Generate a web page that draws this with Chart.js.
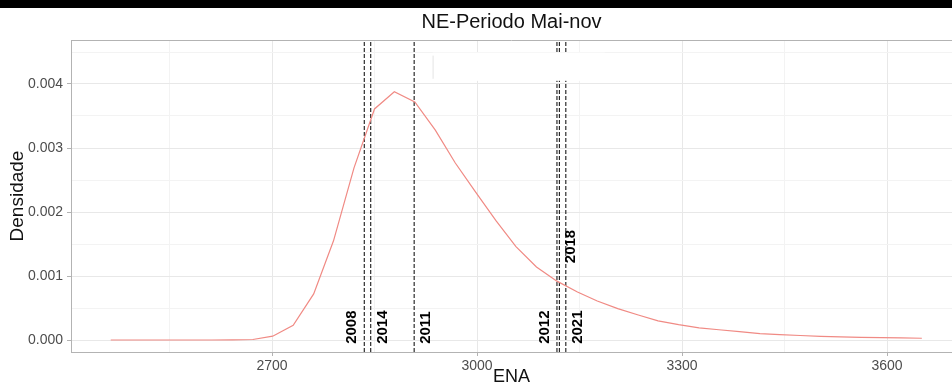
<!DOCTYPE html>
<html>
<head>
    <meta charset="UTF-8">
    <title>NE-Periodo Mai-nov</title>
    <script src="https://cdn.jsdelivr.net/npm/chart.js"></script>
    <style>
        html, body { margin: 0; padding: 0; background: #ffffff; }
        .wrap { width: 952px; height: 388px; position: relative; }
    </style>
</head>
<body>
<div class="wrap"><canvas id="densChart" width="952" height="388"></canvas></div>
<script>
// densidade estimada (ENA x densidade)
const enaValues = [2464, 2494, 2523, 2553, 2583, 2612, 2642, 2672, 2701, 2731,
    2761, 2790, 2820, 2850, 2879, 2909, 2939, 2968, 2998, 3028,
    3057, 3087, 3117, 3147, 3176, 3206, 3236, 3265, 3295, 3325,
    3354, 3384, 3414, 3443, 3473, 3503, 3532, 3562, 3592, 3621, 3651];
const densValues = [0, 0, 0, 0, 0, 0, 0.000001, 0.000008, 0.00006, 0.00023,
    0.00072, 0.00155, 0.00269, 0.00361, 0.00388, 0.00372, 0.00328, 0.00277, 0.00231, 0.00186,
    0.00146, 0.00114, 0.00092, 0.00075, 0.00061, 0.00049, 0.00039, 0.00030, 0.00024, 0.00019,
    0.00016, 0.00013, 0.00010, 0.000085, 0.00007, 0.000058, 0.000049, 0.000042, 0.000037, 0.000032, 0.000027];

// anos de referencia (linhas verticais)
const yearNames = ['2008', '2014', '2011', '2012', '2018', '2021'];
const yearEna = [2835, 2844.5, 2908, 3117, 3120.5, 3130];
const yearSide = ['left', 'right', 'right', 'left', 'right', 'right'];
const yearLabelY = [-0.00006, -0.00006, -0.00006, -0.00006, 0.0012, -0.00006];

// eixos
const xTicks = [2550, 2700, 2850, 3000, 3150, 3300, 3450, 3600];
const xMajor = [2700, 3000, 3300, 3600];
const yTicks = [0, 0.0005, 0.001, 0.0015, 0.002, 0.0025, 0.003, 0.0035, 0.004, 0.0045];
const xMin = 2405.85, xMax = 3695.1;
const yMin = -0.0001875, yMax = 0.0046875;

// caixa branca (legenda apagada)
const boxX = [2935, 3187];
const boxY = [0.00405, 0.00449];

const isMajorY = v => Math.abs(v * 1000 - Math.round(v * 1000)) < 1e-9;

const datasets = [{
    label: 'densidade',
    data: enaValues.map((x, i) => ({ x: x, y: densValues[i] })),
    borderColor: '#F08A84',
    borderWidth: 1.2,
    pointRadius: 0,
    showLine: true,
    tension: 0
}];
yearEna.forEach((v, i) => {
    datasets.push({
        label: yearNames[i],
        data: [{ x: v, y: yMin }, { x: v, y: yMax }],
        borderColor: '#000000',
        borderWidth: 1,
        borderDash: [4, 2],
        pointRadius: 0,
        showLine: true
    });
});

const framePlugin = {
    id: 'frame',
    beforeDraw(chart) {
        const ctx = chart.ctx;
        ctx.save();
        ctx.fillStyle = '#000000';
        ctx.fillRect(0, 0, chart.width, 8);
        ctx.restore();
    },
    afterDatasetsDraw(chart) {
        const ctx = chart.ctx;
        const xs = chart.scales.x, ys = chart.scales.y;
        const a = chart.chartArea;
        ctx.save();
        // caixa branca
        const bx0 = xs.getPixelForValue(boxX[0]), bx1 = xs.getPixelForValue(boxX[1]);
        const by0 = ys.getPixelForValue(boxY[1]), by1 = ys.getPixelForValue(boxY[0]);
        ctx.fillStyle = '#ffffff';
        ctx.fillRect(bx0, by0, bx1 - bx0, by1 - by0);
        ctx.strokeStyle = '#e4e4e4';
        ctx.lineWidth = 1;
        ctx.beginPath();
        ctx.moveTo(bx0 + 0.5, by0 + 3);
        ctx.lineTo(bx0 + 0.5, by1 - 2);
        ctx.stroke();
        // borda superior do painel
        ctx.strokeStyle = '#b3b3b3';
        ctx.beginPath();
        ctx.moveTo(a.left, a.top + 0.5);
        ctx.lineTo(a.right, a.top + 0.5);
        ctx.stroke();
        // rotulos dos anos
        ctx.fillStyle = '#000000';
        ctx.font = 'bold 15px "Liberation Sans", Arial, sans-serif';
        ctx.textAlign = 'left';
        ctx.textBaseline = 'middle';
        yearNames.forEach((name, i) => {
            const px = xs.getPixelForValue(yearEna[i]) + (yearSide[i] === 'right' ? 12 : -12);
            const py = ys.getPixelForValue(yearLabelY[i]);
            ctx.save();
            ctx.translate(px, py);
            ctx.rotate(-Math.PI / 2);
            ctx.fillText(name, 0, 0);
            ctx.restore();
        });
        ctx.restore();
    }
};

new Chart(document.getElementById('densChart'), {
    type: 'scatter',
    data: { datasets: datasets },
    plugins: [framePlugin],
    options: {
        responsive: false,
        animation: false,
        layout: { padding: { left: 0, right: 0, top: 0, bottom: 0 } },
        plugins: {
            legend: { display: false },
            tooltip: { enabled: false },
            title: {
                display: true,
                fullSize: false,
                text: 'NE-Periodo Mai-nov',
                color: '#111111',
                font: { family: '"Liberation Sans", Arial, sans-serif', size: 20, weight: 'normal' },
                padding: { top: 10, bottom: 6 }
            }
        },
        scales: {
            x: {
                type: 'linear',
                min: xMin,
                max: xMax,
                afterBuildTicks: s => { s.ticks = xTicks.map(v => ({ value: v })); },
                afterFit: s => { s.height = 36; },
                ticks: {
                    color: '#4d4d4d',
                    font: { family: '"Liberation Sans", Arial, sans-serif', size: 14 },
                    padding: 2,
                    maxRotation: 0,
                    callback: v => xMajor.includes(v) ? String(v) : ''
                },
                grid: {
                    color: c => xMajor.includes(c.tick.value) ? '#e8e8e8' : '#f3f3f3',
                    tickColor: c => xMajor.includes(c.tick.value) ? '#b3b3b3' : 'rgba(0,0,0,0)',
                    tickLength: 4
                },
                border: { display: true, color: '#b3b3b3' },
                title: {
                    display: true,
                    text: 'ENA',
                    color: '#111111',
                    font: { family: '"Liberation Sans", Arial, sans-serif', size: 18, lineHeight: 1 },
                    padding: { top: 0, bottom: 2 }
                }
            },
            y: {
                type: 'linear',
                min: yMin,
                max: yMax,
                afterBuildTicks: s => { s.ticks = yTicks.map(v => ({ value: v })); },
                afterFit: s => { s.width = 71; },
                ticks: {
                    color: '#4d4d4d',
                    font: { family: '"Liberation Sans", Arial, sans-serif', size: 14 },
                    padding: 4,
                    callback: v => isMajorY(v) ? v.toFixed(3) : ''
                },
                grid: {
                    color: c => isMajorY(c.tick.value) ? '#e8e8e8' : '#f3f3f3',
                    tickColor: c => isMajorY(c.tick.value) ? '#b3b3b3' : 'rgba(0,0,0,0)',
                    tickLength: 4
                },
                border: { display: true, color: '#b3b3b3' },
                title: {
                    display: true,
                    text: 'Densidade',
                    color: '#111111',
                    font: { family: '"Liberation Sans", Arial, sans-serif', size: 19 },
                    padding: { top: 6, bottom: 0 }
                }
            }
        }
    }
});
</script>
</body>
</html>
